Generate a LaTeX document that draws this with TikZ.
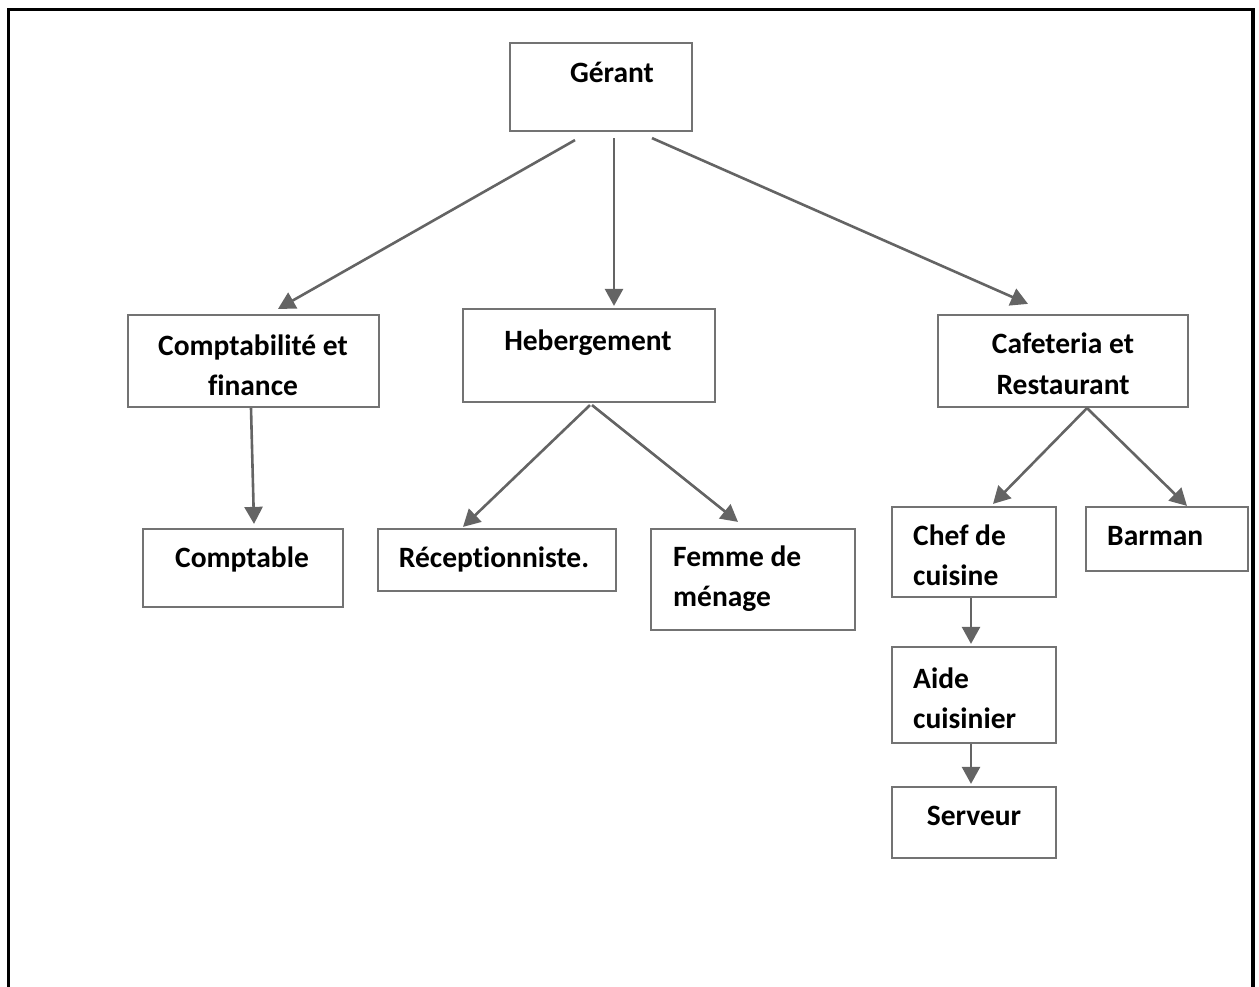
\documentclass[tikz,border=0pt]{standalone}
\usepackage{fontspec}
\setmainfont{Carlito}[Ligatures=NoCommon]
\usetikzlibrary{arrows.meta}
\definecolor{boxgray}{RGB}{115,115,115}
\definecolor{arrowgray}{RGB}{100,100,100}
\begin{document}
\begin{tikzpicture}[x={(1pt,0)},y={(0,-1pt)},
    box/.style={draw=boxgray,line width=2.2pt,inner sep=0pt},
    lbl/.style={font=\fontsize{29.5}{40}\selectfont\bfseries,inner sep=0pt,anchor=base},
    lbll/.style={lbl,anchor=base west},
    arr/.style={draw=arrowgray,line width=2.6pt,-{Triangle[length=17pt,width=18pt]}}]
        \useasboundingbox (0,0) rectangle (1259,987);
        \draw [line width=3.2pt] (8.5,990) -- (8.5,9.5) -- (1253,9.5) -- (1253,990);
        \node [box,minimum width=182pt,minimum height=88pt] (ger) at (601,87) {};
        \node [lbl] (ger-t) at (612,83) {Gérant};
        \node [box,minimum width=251pt,minimum height=92pt] (cpt) at (253.5,361) {};
        \node [lbl] (cpt-t1) at (253,355) {Comptabilité et};
        \node [lbl] (cpt-t2) at (253,395) {finance};
        \node [box,minimum width=252pt,minimum height=93pt] (heb) at (589,355.5) {};
        \node [lbl] (heb-t) at (588,350) {Hebergement};
        \node [box,minimum width=250pt,minimum height=92pt] (caf) at (1063,361) {};
        \node [lbl] (caf-t1) at (1063,353) {Cafeteria et};
        \node [lbl] (caf-t2) at (1063,394) {Restaurant};
        \node [box,minimum width=200pt,minimum height=78pt] (cpb) at (243,568) {};
        \node [lbl] (cpb-t) at (242,567) {Comptable};
        \node [box,minimum width=238pt,minimum height=62pt] (rec) at (497,560) {};
        \node [lbl] (rec-t) at (494,567) {Réceptionniste.};
        \node [box,minimum width=204pt,minimum height=101pt] (fem) at (753,579.5) {};
        \node [lbll] (fem-t1) at (673,566) {Femme de};
        \node [lbll] (fem-t2) at (673,606) {ménage};
        \node [box,minimum width=164pt,minimum height=90pt] (chf) at (974,552) {};
        \node [lbll] (chf-t1) at (913,545) {Chef de};
        \node [lbll] (chf-t2) at (913,585) {cuisine};
        \node [box,minimum width=162pt,minimum height=64pt] (bar) at (1167,539) {};
        \node [lbll] (bar-t) at (1107,545) {Barman};
        \node [box,minimum width=164pt,minimum height=96pt] (aid) at (974,695) {};
        \node [lbll] (aid-t1) at (913,688) {Aide};
        \node [lbll] (aid-t2) at (913,728) {cuisinier};
        \node [box,minimum width=164pt,minimum height=71pt] (srv) at (974,822.5) {};
        \node [lbl] (srv-t) at (974,825) {Serveur};
        \draw [arr] ([xshift=-26pt,yshift=-8pt]ger.south) -- ([xshift=24.5pt,yshift=5pt]cpt.north);
        \draw [arr] ([xshift=13pt,yshift=-6pt]ger.south) -- ([xshift=25pt,yshift=2pt]heb.north);
        \draw [arr] ([xshift=51pt,yshift=-6pt]ger.south) -- ([xshift=-35pt,yshift=10pt]caf.north);
        \draw [arr] ([xshift=-2.5pt]cpt.south) -- ([xshift=11pt,yshift=4pt]cpb.north);
        \draw [arr] ([xshift=1pt,yshift=-2pt]heb.south) -- ([xshift=-34pt,yshift=1pt]rec.north);
        \draw [arr] ([xshift=3pt,yshift=-2pt]heb.south) -- ([xshift=-15pt,yshift=6pt]fem.north);
        \draw [arr] ([xshift=24pt]caf.south) -- ([xshift=19pt,yshift=2pt]chf.north);
        \draw [arr] ([xshift=24pt]caf.south) -- ([xshift=20pt]bar.north);
        \draw [arr] ([xshift=-3pt]chf.south) -- ([xshift=-3pt,yshift=2pt]aid.north);
        \draw [arr] ([xshift=-3pt]aid.south) -- ([xshift=-3pt,yshift=2pt]srv.north);
\end{tikzpicture}
\end{document}
